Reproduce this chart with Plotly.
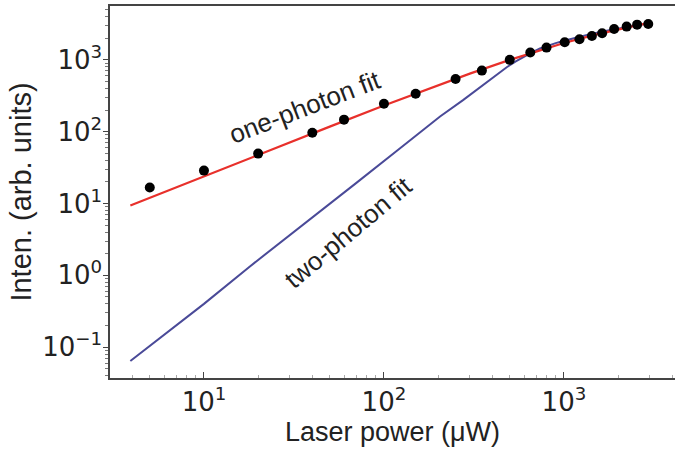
import plotly.graph_objects as go
import math

# measured data points
power = [5.0, 10, 20, 40, 60, 100, 150, 250, 350, 500, 650, 800, 1010, 1220,
         1430, 1630, 1900, 2230, 2550, 2940]
inten = [16.7, 28.7, 49.5, 96.8, 147, 245, 337, 540, 709, 1000, 1263, 1482,
         1762, 1938, 2154, 2344, 2696, 2904, 3094, 3162]

# one-photon fit curve
fit1_p = [3.9, 10, 20, 50, 100, 200, 300, 500, 700, 1000, 1500, 2000, 2500, 2950]
fit1_i = [9.35, 23.9, 47.6, 117.6, 231, 444, 643, 1000, 1312, 1714, 2250, 2667, 3000, 3240]

# two-photon fit curve
fit2_p = [3.9, 10, 18, 40, 70, 120, 205, 275, 340, 400, 481, 540, 600, 660, 736,
          820, 900, 1000, 1127, 1400, 1726, 2300, 2944]
fit2_i = [0.064, 0.40, 1.33, 6.3, 19.2, 56, 163, 275, 410, 555, 790, 950, 1105,
          1260, 1440, 1590, 1710, 1850, 2010, 2280, 2552, 2930, 3236]

x_tickvals = [10, 100, 1000]
x_ticktext = ["10<sup>1</sup>", "10<sup>2</sup>", "10<sup>3</sup>"]
y_tickvals = [0.1, 1, 10, 100, 1000]
y_ticktext = ["10<sup>\u22121</sup>", "10<sup>0</sup>", "10<sup>1</sup>",
              "10<sup>2</sup>", "10<sup>3</sup>"]

fig = go.Figure()
fig.add_trace(go.Scatter(x=fit2_p, y=fit2_i, mode="lines",
                         line=dict(color="#4a4a98", width=2),
                         hoverinfo="skip"))
fig.add_trace(go.Scatter(x=fit1_p, y=fit1_i, mode="lines",
                         line=dict(color="#e8302b", width=2.2),
                         hoverinfo="skip"))
fig.add_trace(go.Scatter(x=power, y=inten, mode="markers",
                         marker=dict(color="black", size=10)))

tickfont = dict(family="DejaVu Sans", size=26, color="#222222")
xtitlefont = dict(family="Liberation Sans, Arial", size=27, color="#222222")
ytitlefont = dict(family="Liberation Sans, Arial", size=29, color="#222222")
annfont = dict(family="Liberation Sans, Arial", size=26, color="#222222")

fig.update_layout(
    width=675, height=457,
    margin=dict(l=110, r=0, t=6, b=79),
    paper_bgcolor="white", plot_bgcolor="white",
    showlegend=False,
    xaxis=dict(type="log", range=[0.478, 3.617],
               showline=True, linecolor="#444444", linewidth=1.5, mirror=True,
               ticks="inside", ticklen=6, tickcolor="#444444",
               tickvals=x_tickvals, ticktext=x_ticktext, tickfont=tickfont,
               minor=dict(ticks="inside", ticklen=3, tickcolor="#aaaaaa",
                          dtick="D1", showgrid=False),
               showgrid=False, zeroline=False,
               title=dict(text="Laser power (\u03bcW)", font=xtitlefont, standoff=6)),
    yaxis=dict(type="log", range=[-1.43, 3.75],
               showline=True, linecolor="#444444", linewidth=1.5, mirror=False,
               ticks="outside", ticklen=5, tickcolor="#444444",
               tickvals=y_tickvals, ticktext=y_ticktext, tickfont=tickfont,
               ticklabelstandoff=-4,
               minor=dict(ticks="outside", ticklen=3, tickcolor="#777777",
                          dtick="D1", showgrid=False),
               showgrid=False, zeroline=False,
               title=dict(text="Inten. (arb. units)", font=ytitlefont, standoff=2)),
    annotations=[
        dict(x=math.log10(36.4), y=math.log10(222), xref="x", yref="y",
             text="one-photon fit", showarrow=False, textangle=-21,
             font=annfont),
        dict(x=math.log10(63.9), y=math.log10(3.95), xref="x", yref="y",
             text="two-photon fit", showarrow=False, textangle=-40,
             font=annfont),
    ],
)

fig.write_html("out.html")
